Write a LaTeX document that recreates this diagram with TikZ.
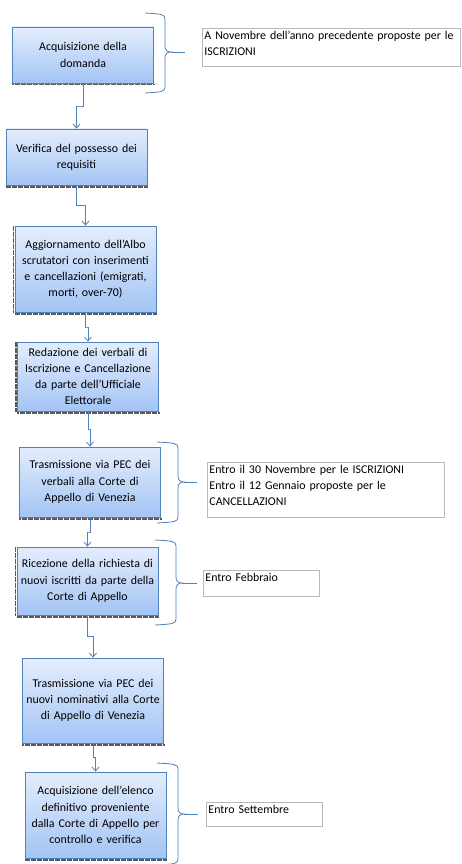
\documentclass[tikz,border=0pt]{standalone}
\usepackage{fontspec}
\setmainfont{Carlito}
\usetikzlibrary{arrows.meta,calc}
\definecolor{flowblue}{RGB}{79,129,189}
\definecolor{boxtop}{RGB}{228,237,252}
\definecolor{boxbottom}{RGB}{163,196,245}
\tikzset{
  stepbox/.style={draw=flowblue, line width=0.8pt, top color=boxtop, bottom color=boxbottom,
    minimum width=141pt, text width=136pt, align=center, inner sep=2pt},
  note/.style={draw=black!28, line width=0.9pt, fill=white, anchor=north west,
    align=left, inner sep=2pt, text height=9pt, text depth=#1},
  flow/.style={draw=flowblue, line width=0.8pt, -{Straight Barb[length=4pt,width=7pt]}},
  brace/.style={draw=flowblue, line width=0.8pt},
  hatch/.style={draw=black!65, line width=1.6pt, dash pattern=on 0.6pt off 0.6pt}
}
\begin{document}
\begin{tikzpicture}[x=1pt, y=-1pt, font=\fontsize{11.9}{16.2}\selectfont]
   \path[fill=white, use as bounding box] (0,0) rectangle (462,864);

   % Steps
   \node[stepbox, minimum height=56pt] (b1) at (83,55) {Acquisizione della\\domanda};
   \node[stepbox, minimum height=56pt] (b2) at (76.5,157) {Verifica del possesso dei\\requisiti};
   \node[stepbox, minimum height=86pt] (b3) at (85.5,269) {Aggiornamento dell'Albo\\scrutatori con inserimenti\\e cancellazioni (emigrati,\\morti, over-70)};
   \node[stepbox, minimum height=69pt] (b4) at (88,376.5) {Redazione dei verbali di\\Iscrizione e Cancellazione\\da parte dell'Ufficiale\\Elettorale};
   \node[stepbox, minimum height=70pt] (b5) at (90,482) {Trasmissione via PEC dei\\verbali alla Corte di\\Appello di Venezia};
   \node[stepbox, minimum height=68pt] (b6) at (87.5,581) {Ricezione della richiesta di\\nuovi iscritti da parte della\\Corte di Appello};
   \node[stepbox, minimum height=85pt] (b7) at (93,700.5) {Trasmissione via PEC dei\\nuovi nominativi alla Corte\\di Appello di Venezia};
   \node[stepbox, minimum height=86pt] (b8) at (95.5,815) {Acquisizione dell'elenco\\definitivo proveniente\\dalla Corte di Appello per\\controllo e verifica};

   \foreach \n in {b1,b2,b3,b4,b5,b6,b7,b8} {
      \draw[hatch] ([yshift=-1.3pt]\n.south west) -- ([yshift=-1.3pt]\n.south east);
   }
   \foreach \n in {b3,b4,b6} {
      \draw[hatch] ([xshift=-1.3pt]\n.north west) -- ([xshift=-1.3pt]\n.south west);
   }

   \foreach \a/\b in {b1/b2,b2/b3,b3/b4,b4/b5,b5/b6,b6/b7,b7/b8} {
      \draw[flow] (\a.south) |- ($(\a.south)!.5!(\b.north)$) -| (\b.north);
   }

   % Deadlines
   \node[note=25.5pt, text width=254pt] (n1) at (202,28) {A Novembre dell'anno precedente proposte per le\\ISCRIZIONI};
   \node[note=41.5pt, text width=233pt] (n5) at (207,462) {Entro il 30 Novembre per le ISCRIZIONI\\Entro il 12 Gennaio proposte per le\\CANCELLAZIONI};
   \node[note=12.5pt, text width=112pt] (n6) at (203,570) {Entro Febbraio};
   \node[note=10.5pt, text width=112pt] (n8) at (206,802) {Entro Settembre};

   \foreach \xa/\xb/\ya/\yb/\yt/\xt in {145/165/13/93/52/185, 157/178/442/523/482/197,
         155/176/540/625/583/197, 157/178/763/865/814/198} {
      \draw[brace] (\xa,\ya) .. controls (\xb-4,\ya+1) and (\xb,\ya+1) .. (\xb,\ya+6)
         -- (\xb,\yt-6) .. controls (\xb,\yt-2) and (\xb+2,\yt) .. (\xb+6,\yt)
         .. controls (\xb+2,\yt) and (\xb,\yt+2) .. (\xb,\yt+6)
         -- (\xb,\yb-6) .. controls (\xb,\yb-1) and (\xb-4,\yb-1) .. (\xa,\yb);
      \draw[brace] (\xb+6,\yt) -- (\xt,\yt);
   }
\end{tikzpicture}
\end{document}
